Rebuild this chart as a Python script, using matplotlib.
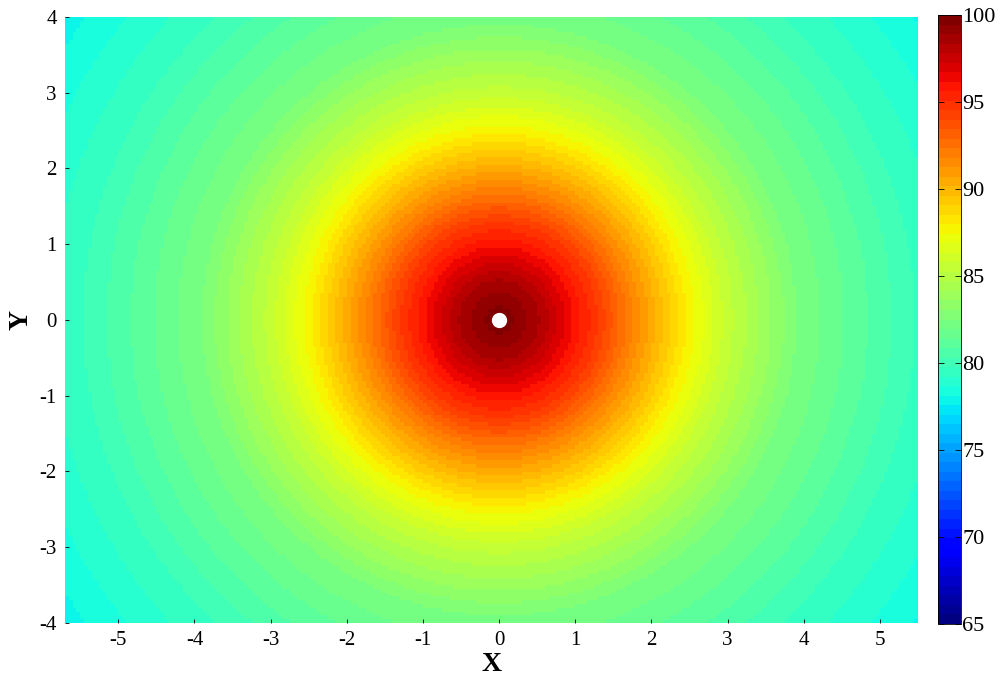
import numpy as np
import matplotlib.pyplot as plt

# radial profile of the field (distance from source -> level)
radius = [0.0, 0.5, 0.9, 1.3, 1.8, 2.5, 3.0, 3.9, 5.5, 7.0]
level = [100.0, 98.5, 96.5, 94.5, 91.5, 87.7, 85.5, 82.5, 79.7, 77.8]

x_range = [-5.7, 5.5]
y_range = [-4.0, 4.0]
step = 0.05

source = [0.0, 0.0]
cbar_ticks = [65, 70, 75, 80, 85, 90, 95, 100]
x_ticks = [-5, -4, -3, -2, -1, 0, 1, 2, 3, 4, 5]
y_ticks = [-4, -3, -2, -1, 0, 1, 2, 3, 4]

plt.rcParams['font.family'] = ['Liberation Serif', 'DejaVu Serif']
plt.rcParams['axes.unicode_minus'] = False

xe = np.arange(x_range[0], x_range[1] + step / 2, step)
ye = np.arange(y_range[0], y_range[1] + step / 2, step)
xc = (xe[:-1] + xe[1:]) / 2
yc = (ye[:-1] + ye[1:]) / 2
X, Y = np.meshgrid(xc, yc)
R = np.hypot(X - source[0], Y - source[1])
Z = np.interp(R, radius, level)

fig = plt.figure(figsize=(10.05, 6.79), dpi=100)
ax = fig.add_axes([65 / 1005, 1 - 623 / 679, 853 / 1005, 606 / 679])
cax = fig.add_axes([938 / 1005, 1 - 624 / 679, 23 / 1005, 609 / 679])

jet = plt.get_cmap('jet', 64)
mesh = ax.pcolormesh(xe, ye, Z, cmap=jet, vmin=65, vmax=100, shading='flat')
ax.plot(source[0], source[1], 'o', color='white', markersize=10, mec='white')

ax.set_xlim(x_range)
ax.set_ylim(y_range)
ax.set_xticks(x_ticks)
ax.set_yticks(y_ticks)
ax.tick_params(direction='in', length=3, labelsize=15, width=0.6, pad=6)
for s in ax.spines.values():
    s.set_visible(False)
ax.set_xlabel('X', fontsize=20, fontweight='bold', labelpad=1)
ax.set_ylabel('Y', fontsize=20, fontweight='bold', labelpad=4, rotation=90)

cb = fig.colorbar(mesh, cax=cax, ticks=cbar_ticks)
cb.outline.set_linewidth(0.6)
cax.tick_params(direction='in', length=4, labelsize=16, width=0.6, pad=1,
                left=True, right=True)

fig.savefig('out.png', dpi=100)
